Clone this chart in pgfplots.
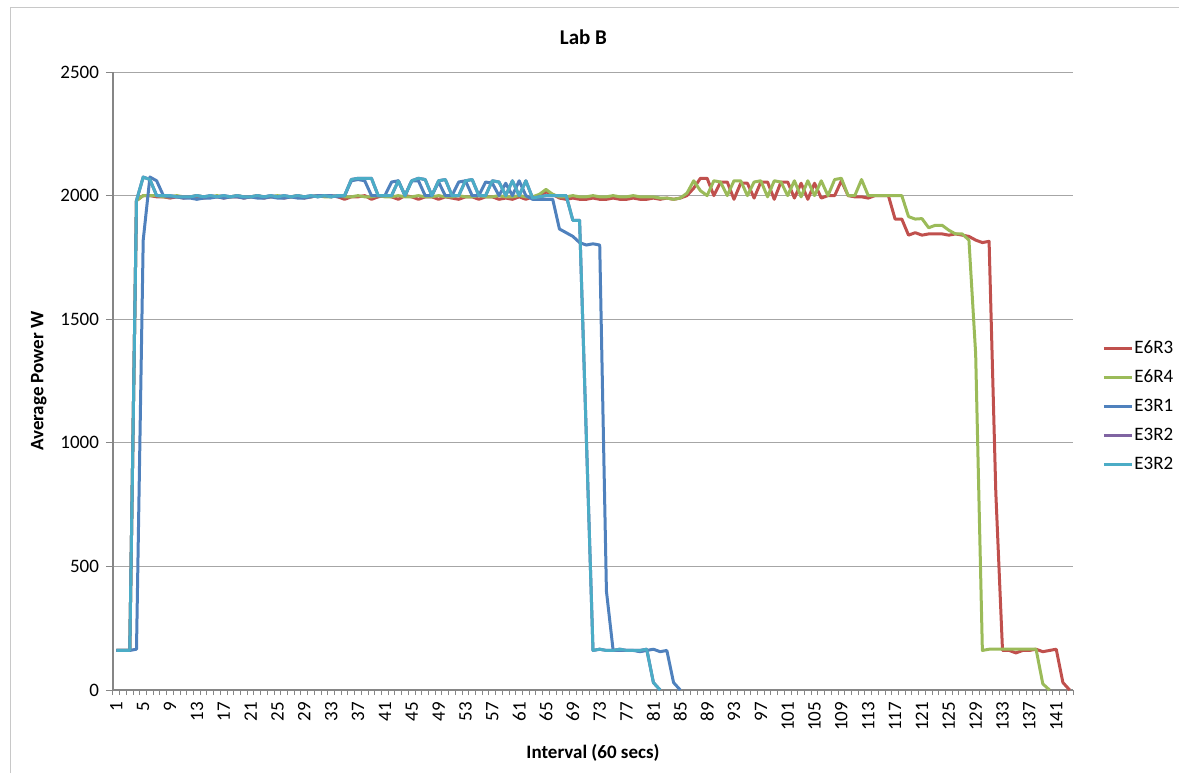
\documentclass[border=0pt]{standalone}
\usepackage{fontspec}
\setmainfont{Carlito}
\usepackage{pgfplots}
\pgfplotsset{compat=1.18}

\definecolor{cRed}{HTML}{C0504D}
\definecolor{cGreen}{HTML}{9BBB59}
\definecolor{cBlue}{HTML}{4F81BD}
\definecolor{cPurple}{HTML}{8064A2}
\definecolor{cCyan}{HTML}{4BACC6}
\definecolor{gridgray}{RGB}{166,166,166}
\definecolor{axisgray}{RGB}{134,134,134}
\definecolor{framegray}{RGB}{200,200,200}

\begin{document}
\begin{tikzpicture}[x=1pt,y=1pt]
\path[use as bounding box] (0,0) rectangle (589.5,386.5);
\draw[framegray, line width=0.5pt] (5,0) -- (5,382.5) -- (589.5,382.5);

\begin{axis}[
  at={(56.5pt,41.5pt)}, anchor=south west,
  scale only axis, width=480pt, height=309pt,
  xmin=0.5, xmax=143.5, ymin=0, ymax=2500,
  xtick={1,5,...,141},
  minor xtick={0.5,1.5,...,143.5},
  ytick={0,500,...,2500},
  axis x line*=bottom, axis y line*=left,
  axis line style={axisgray, line width=0.7pt, -},
  tick align=outside,
  major tick length=3.5pt, minor tick length=2.5pt,
  major x tick style={draw=none},
  minor x tick style={axisgray, line width=0.5pt},
  major y tick style={axisgray, line width=0.5pt},
  ymajorgrids, grid style={gridgray, line width=0.5pt},
  /pgf/number format/1000 sep={},
  /pgf/number format/assume math mode=true,
  xticklabel style={font=\fontsize{9.5}{10}\selectfont, rotate=90, anchor=east, xshift=1pt},
  yticklabel style={font=\fontsize{9.5}{11}\selectfont},
  title={\textbf{Lab B}},
  title style={font=\fontsize{10.5}{12}\selectfont, at={(0.49,1)}, yshift=4pt},
  xlabel={\textbf{Interval (60 secs)}},
  ylabel={\textbf{Average Power W}},
  label style={font=\fontsize{9.5}{11}\selectfont},
  legend style={draw=none, fill=none, at={(1.024,0.4595)}, anchor=west,
    font=\fontsize{9.5}{11}\selectfont, row sep=5.5pt,
    nodes={inner sep=0.5pt, text height=6.5pt, text depth=1.5pt}},
  legend cell align=left,
  legend image code/.code={\draw[#1] (0pt,0pt) -- (14pt,0pt);},
  every axis plot/.append style={line width=1.5pt, line join=round, mark=none},
  clip=false,
]

% E6R3
\addplot[cRed] coordinates {
(1,160)(2,160)(3,160)(4,1980)(5,2000)(6,2000)(7,1995)(8,1995)(9,1990)(10,1995)
(11,1990)(12,1995)(13,1995)(14,1990)(15,1995)(16,1995)(17,1990)(18,1995)(19,1995)(20,1990)
(21,1995)(22,1995)(23,1990)(24,1995)(25,1995)(26,1990)(27,1995)(28,1995)(29,1990)(30,1995)
(31,2000)(32,2000)(33,2000)(34,1995)(35,1985)(36,1995)(37,1995)(38,2000)(39,1985)(40,1995)
(41,2000)(42,1995)(43,1985)(44,2000)(45,1995)(46,1985)(47,1995)(48,1995)(49,1985)(50,1995)
(51,1990)(52,1985)(53,1995)(54,1995)(55,1985)(56,1995)(57,1995)(58,1985)(59,1990)(60,1985)
(61,1995)(62,1985)(63,1995)(64,2000)(65,2015)(66,2005)(67,1990)(68,1985)(69,1990)(70,1985)
(71,1985)(72,1990)(73,1985)(74,1985)(75,1990)(76,1985)(77,1985)(78,1990)(79,1985)(80,1985)
(81,1990)(82,1985)(83,1990)(84,1985)(85,1990)(86,2000)(87,2030)(88,2070)(89,2070)(90,2000)
(91,2055)(92,2055)(93,1985)(94,2050)(95,2050)(96,1990)(97,2055)(98,2055)(99,1985)(100,2055)
(101,2055)(102,1990)(103,2050)(104,1985)(105,2050)(106,1990)(107,2000)(108,2000)(109,2060)(110,2000)
(111,1995)(112,1995)(113,1990)(114,2000)(115,2000)(116,2000)(117,1905)(118,1905)(119,1840)(120,1850)
(121,1840)(122,1845)(123,1845)(124,1845)(125,1840)(126,1845)(127,1840)(128,1835)(129,1820)(130,1810)
(131,1815)(132,800)(133,160)(134,160)(135,150)(136,160)(137,160)(138,165)(139,155)(140,160)
(141,165)(142,30)(143,0)
};
\addlegendentry{E6R3}

% E6R4
\addplot[cGreen] coordinates {
(1,160)(2,160)(3,160)(4,1980)(5,2000)(6,2000)(7,2000)(8,1995)(9,1995)(10,2000)
(11,1995)(12,1995)(13,2000)(14,1995)(15,1995)(16,2000)(17,1995)(18,1995)(19,2000)(20,1995)
(21,1995)(22,2000)(23,1995)(24,1995)(25,2000)(26,1995)(27,1995)(28,2000)(29,1995)(30,1995)
(31,2000)(32,1995)(33,1995)(34,2000)(35,1995)(36,1995)(37,2000)(38,1995)(39,1995)(40,2000)
(41,1995)(42,1995)(43,2000)(44,1995)(45,1995)(46,2000)(47,1995)(48,1995)(49,2000)(50,1995)
(51,1995)(52,2000)(53,1995)(54,1995)(55,2000)(56,1995)(57,1995)(58,2000)(59,1995)(60,1995)
(61,2000)(62,1995)(63,1995)(64,2005)(65,2025)(66,2005)(67,1995)(68,1995)(69,2000)(70,1995)
(71,1995)(72,2000)(73,1995)(74,1995)(75,2000)(76,1995)(77,1995)(78,2000)(79,1995)(80,1995)
(81,1995)(82,1990)(83,1990)(84,1985)(85,1990)(86,2010)(87,2060)(88,2020)(89,2000)(90,2060)
(91,2055)(92,2000)(93,2060)(94,2060)(95,2000)(96,2055)(97,2060)(98,1995)(99,2060)(100,2055)
(101,2000)(102,2060)(103,1995)(104,2060)(105,2000)(106,2060)(107,2000)(108,2065)(109,2070)(110,2000)
(111,2000)(112,2065)(113,2000)(114,2000)(115,2000)(116,2000)(117,2000)(118,2000)(119,1915)(120,1905)
(121,1907)(122,1870)(123,1880)(124,1880)(125,1860)(126,1845)(127,1845)(128,1820)(129,1360)(130,160)
(131,165)(132,165)(133,165)(134,165)(135,165)(136,165)(137,165)(138,165)(139,25)(140,0)
};
\addlegendentry{E6R4}

% E3R1
\addplot[cBlue] coordinates {
(1,160)(2,160)(3,160)(4,165)(5,1820)(6,2075)(7,2060)(8,2000)(9,1995)(10,1995)
(11,1990)(12,1990)(13,1985)(14,1990)(15,1990)(16,1995)(17,1990)(18,1995)(19,1995)(20,1990)
(21,1995)(22,1990)(23,1990)(24,1995)(25,1990)(26,1990)(27,1995)(28,1990)(29,1990)(30,1995)
(31,2000)(32,2000)(33,2000)(34,1995)(35,2000)(36,2060)(37,2065)(38,2060)(39,2000)(40,2000)
(41,2000)(42,2055)(43,2060)(44,2000)(45,2060)(46,2060)(47,2000)(48,2000)(49,2055)(50,2000)
(51,2000)(52,2055)(53,2060)(54,2000)(55,2000)(56,2055)(57,2050)(58,2000)(59,2050)(60,2000)
(61,2060)(62,2000)(63,1985)(64,1985)(65,1985)(66,1985)(67,1865)(68,1850)(69,1835)(70,1810)
(71,1800)(72,1805)(73,1800)(74,400)(75,160)(76,160)(77,160)(78,160)(79,155)(80,160)
(81,165)(82,155)(83,160)(84,30)(85,0)
};
\addlegendentry{E3R1}

% E3R2 (first run)
\addplot[cPurple] coordinates {
(1,160)(2,160)(3,160)(4,1980)(5,2075)(6,2065)(7,2000)(8,2000)(9,2000)(10,1995)
(11,1995)(12,1995)(13,2000)(14,1995)(15,2000)(16,1995)(17,2000)(18,1995)(19,2000)(20,1995)
(21,1995)(22,2000)(23,1995)(24,2000)(25,1995)(26,2000)(27,1995)(28,2000)(29,1995)(30,2000)
(31,1995)(32,2000)(33,1995)(34,2000)(35,2000)(36,2065)(37,2070)(38,2070)(39,2070)(40,2000)
(41,2000)(42,2000)(43,2060)(44,2000)(45,2060)(46,2070)(47,2065)(48,2000)(49,2060)(50,2065)
(51,2000)(52,2000)(53,2060)(54,2065)(55,2000)(56,2000)(57,2060)(58,2055)(59,2000)(60,2060)
(61,2000)(62,2060)(63,1990)(64,1995)(65,2000)(66,2000)(67,2000)(68,2000)(69,1900)(70,1900)
(71,1030)(72,160)(73,165)(74,160)(75,160)(76,165)(77,160)(78,160)(79,160)(80,165)
(81,30)(82,0)
};
\addlegendentry{E3R2}

% E3R2 (second run)
\addplot[cCyan] coordinates {
(1,160)(2,160)(3,160)(4,1980)(5,2075)(6,2065)(7,2000)(8,2000)(9,2000)(10,1995)
(11,1995)(12,1995)(13,2000)(14,1995)(15,2000)(16,1995)(17,2000)(18,1995)(19,2000)(20,1995)
(21,1995)(22,2000)(23,1995)(24,2000)(25,1995)(26,2000)(27,1995)(28,2000)(29,1995)(30,2000)
(31,1995)(32,2000)(33,1995)(34,2000)(35,2000)(36,2065)(37,2070)(38,2070)(39,2070)(40,2000)
(41,2000)(42,2000)(43,2060)(44,2000)(45,2060)(46,2070)(47,2065)(48,2000)(49,2060)(50,2065)
(51,2000)(52,2000)(53,2060)(54,2065)(55,2000)(56,2000)(57,2060)(58,2055)(59,2000)(60,2060)
(61,2000)(62,2060)(63,1990)(64,1995)(65,2000)(66,2000)(67,2000)(68,2000)(69,1900)(70,1900)
(71,1030)(72,160)(73,165)(74,160)(75,160)(76,165)(77,160)(78,160)(79,160)(80,165)
(81,30)(82,0)
};
\addlegendentry{E3R2}

\end{axis}
\end{tikzpicture}
\end{document}
